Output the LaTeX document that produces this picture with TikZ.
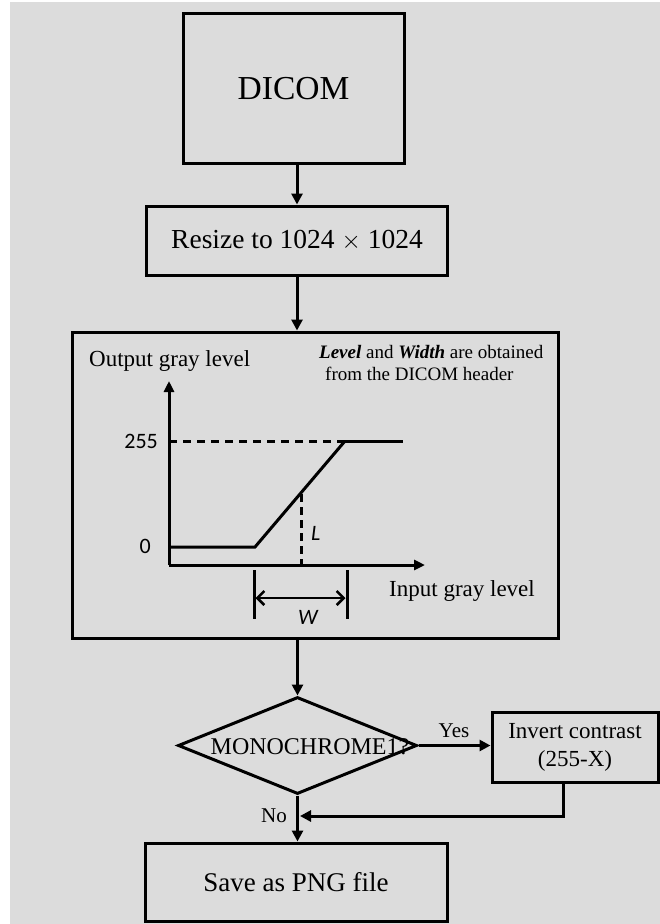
\documentclass[tikz,border=0pt]{standalone}
\usepackage{fontspec}
\setmainfont{Liberation Serif}
\newfontfamily\carl{Carlito}
\usetikzlibrary{arrows.meta,shapes.geometric}
\definecolor{bg}{RGB}{220,220,220}
\tikzset{
  box/.style={draw,line width=3pt,inner sep=0pt,align=center},
  arr/.style={line width=3pt,-{Triangle[length=11pt,width=11pt]}},
  ln/.style={line width=3pt},
  dsh/.style={line width=3pt,dash pattern=on 8pt off 6pt},
  fs/.style={font=\fontsize{#1}{#1}\selectfont},
}
\begin{document}
\begin{tikzpicture}[x=1pt,y=-1pt]
\useasboundingbox (0,0) rectangle (660,924);
\fill[white] (0,0) rectangle (660,924);
\fill[bg] (10,2) rectangle (660,924);

% boxes
\node[box,fs=33.5,minimum width=221pt,minimum height=150pt] (dicom) at (293.5,88.5) {DICOM};
\node[box,fs=27.5,minimum width=301pt,minimum height=69pt] (resize) at (297,240.5) {Resize to 1024 $\times$ 1024};
\node[box,minimum width=486pt,minimum height=306pt] (big) at (315,485) {};
\node[draw,diamond,line width=3pt,inner sep=0pt,minimum width=239pt,minimum height=97pt] (mono) at (297.5,745.5) {};
\node[fs=24] (monot) at (310,747) {MONOCHROME1?};
\node[box,font=\fontsize{23}{28}\selectfont,minimum width=166pt,minimum height=70pt] (invert) at (575,747) {Invert contrast\\(255-X)};
\node[box,fs=27,minimum width=302pt,minimum height=78pt] (save) at (296,882) {Save as PNG file};

% connectors
\draw[arr] (dicom.south -| resize.north) -- (resize.north);
\draw[arr] (resize.south) -- (resize.south |- big.north);
\draw[arr] (mono.north |- big.south) -- (mono.north);
\draw[arr] (mono.east) -- (mono.east -| invert.west);
\coordinate (c1) at (563,782);
\coordinate (join) at (300,816);
\draw[arr] (c1) |- (join);
\draw[arr] (mono.south) -- (mono.south |- save.north);
\node[fs=21] (yes) at (454,731) {Yes};
\node[fs=21] (no) at (274,816) {No};

% chart inside big box
\draw[line width=3pt,-{Triangle[length=11pt,width=10pt]}] (169,565) -- (169,381);
\draw[line width=3pt,-{Triangle[length=11pt,width=10pt]}] (169,565) -- (425,565);
\draw[dsh] (169,441) -- (345,441);
\draw[ln] (345,441) -- (403,441);
\draw[ln,line join=miter] (169,547) -- (255,547) -- (345,441);
\draw[dsh,dash pattern=on 8pt off 5pt] (301,494) -- (301,565);
\draw[ln] (254,570) -- (254,619);
\draw[ln] (347,570) -- (347,619);
\draw[line width=2.5pt,{Straight Barb[length=7pt,width=14pt]}-{Straight Barb[length=7pt,width=14pt]}] (255.5,598) -- (345.5,598);

\node[fs=23,anchor=west,inner sep=0pt] (outl) at (89,361) {Output gray level};
\node[fs=23,anchor=west,inner sep=0pt] (inl) at (389,591) {Input gray level};
\node[fs=19,anchor=west,inner sep=0pt] (n1) at (319,352) {\textbf{\textit{Level}} and \textbf{\textit{Width}} are obtained};
\node[fs=19,anchor=west,inner sep=0pt] (n2) at (325,374) {from the DICOM header};
\node[fs=22,anchor=east,inner sep=0pt] (l255) at (158,441) {\carl 255};
\node[fs=22,anchor=east,inner sep=0pt] (l0) at (151,546) {\carl 0};
\node[fs=22,anchor=west,inner sep=0pt] (lL) at (311,533) {\carl\itshape L};
\node[fs=22,inner sep=0pt] (lW) at (308,617) {\carl\itshape W};
\end{tikzpicture}
\end{document}
